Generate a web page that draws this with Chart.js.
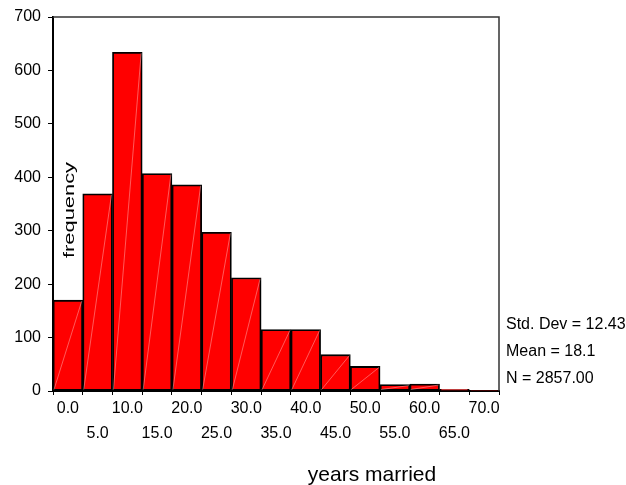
<!DOCTYPE html>
<html>
<head>
<meta charset="utf-8">
<script src="https://cdn.jsdelivr.net/npm/chart.js@4/dist/chart.umd.min.js"></script>
<style>
body{margin:0;background:#fff;}
canvas{display:block;}
</style>
</head>
<body>
<canvas id="hist" width="626" height="485"></canvas>
<script>
// bins of 5 years, labelled by their centre
const binLabels = ['0.0','5.0','10.0','15.0','20.0','25.0','30.0','35.0','40.0','45.0','50.0','55.0','60.0','65.0','70.0'];
const frequencies = [170,369,634,407,386,297,212,115,115,68,46,12,13,3,1];
const statLines = ['Std. Dev = 12.43','Mean = 18.1','N = 2857.00'];
const yLabel = 'frequency';
const xLabel = 'years married';

const FONT = '"Liberation Sans", Arial, sans-serif';

/* extra drawing: faint diagonal in each bar, plot frame, labels, stats */
const decor = {
id:'decor',
afterDatasetsDraw(chart){
let ctx = chart.ctx;
let meta = chart.getDatasetMeta(0);
ctx.save();
ctx.strokeStyle = 'rgba(255,190,190,0.8)';
ctx.lineWidth = 0.6;
meta.data.forEach(bar=>{
let p = bar.getProps(['x','y','base','width'], true);
if(p.base - p.y < 3) return;
ctx.beginPath();
ctx.moveTo(p.x - p.width/2 + 1, p.base - 1);
ctx.lineTo(p.x + p.width/2 - 1, p.y + 1);
ctx.stroke();
});
ctx.restore();
},
afterDraw(chart){
let ctx = chart.ctx;
let a = chart.chartArea;
ctx.save();
// top and right frame
ctx.strokeStyle = '#333';
ctx.lineWidth = 1.5;
ctx.beginPath();
ctx.moveTo(a.left, a.top);
ctx.lineTo(a.right, a.top);
ctx.lineTo(a.right, a.bottom);
ctx.stroke();

ctx.fillStyle = '#000';
// y title, drawn inside the plot
ctx.font = '15px ' + FONT;
let w = ctx.measureText(yLabel).width;
ctx.translate(69.5, 210);
ctx.rotate(-Math.PI/2);
ctx.scale(96/w, 1);
ctx.textAlign = 'center';
ctx.textBaseline = 'middle';
ctx.fillText(yLabel, 0, 0);
ctx.setTransform(1,0,0,1,0,0);

// x title
ctx.font = '21px ' + FONT;
ctx.textAlign = 'center';
ctx.textBaseline = 'alphabetic';
ctx.fillText(xLabel, 372, 481);

// stats
ctx.font = '16px ' + FONT;
ctx.textAlign = 'left';
statLines.forEach((s,i)=>{
ctx.fillText(s, a.right + 7, 329 + i*27);
});
ctx.restore();
}
};

new Chart(document.getElementById('hist'),{
type:'bar',
data:{
labels:binLabels,
datasets:[{
data:frequencies,
backgroundColor:'#ff0000',
borderColor:'#000',
borderWidth:1.8,
borderSkipped:false,
barPercentage:1,
categoryPercentage:1
}]
},
options:{
responsive:false,
animation:false,
layout:{padding:{top:17,right:127,left:0,bottom:0}},
plugins:{legend:{display:false},tooltip:{enabled:false}},
scales:{
x:{
grid:{drawOnChartArea:false,drawTicks:true,tickLength:4,color:'#000'},
border:{color:'#000',width:2},
ticks:{
autoSkip:false,maxRotation:0,padding:1,color:'#000',
font:{family:FONT,size:16,lineHeight:'25px'},
callback:(v,i)=> i%2 ? ['', binLabels[i]] : binLabels[i]
},
afterFit:(s)=>{ s.height = 94; }
},
y:{
min:0,max:700,
grid:{drawOnChartArea:false,drawTicks:true,tickLength:5,color:'#000'},
border:{color:'#000',width:2},
ticks:{stepSize:100,padding:7,color:'#000',font:{family:FONT,size:16}},
afterFit:(s)=>{ s.width = 53; }
}
}
},
plugins:[decor]
});
</script>
</body>
</html>
